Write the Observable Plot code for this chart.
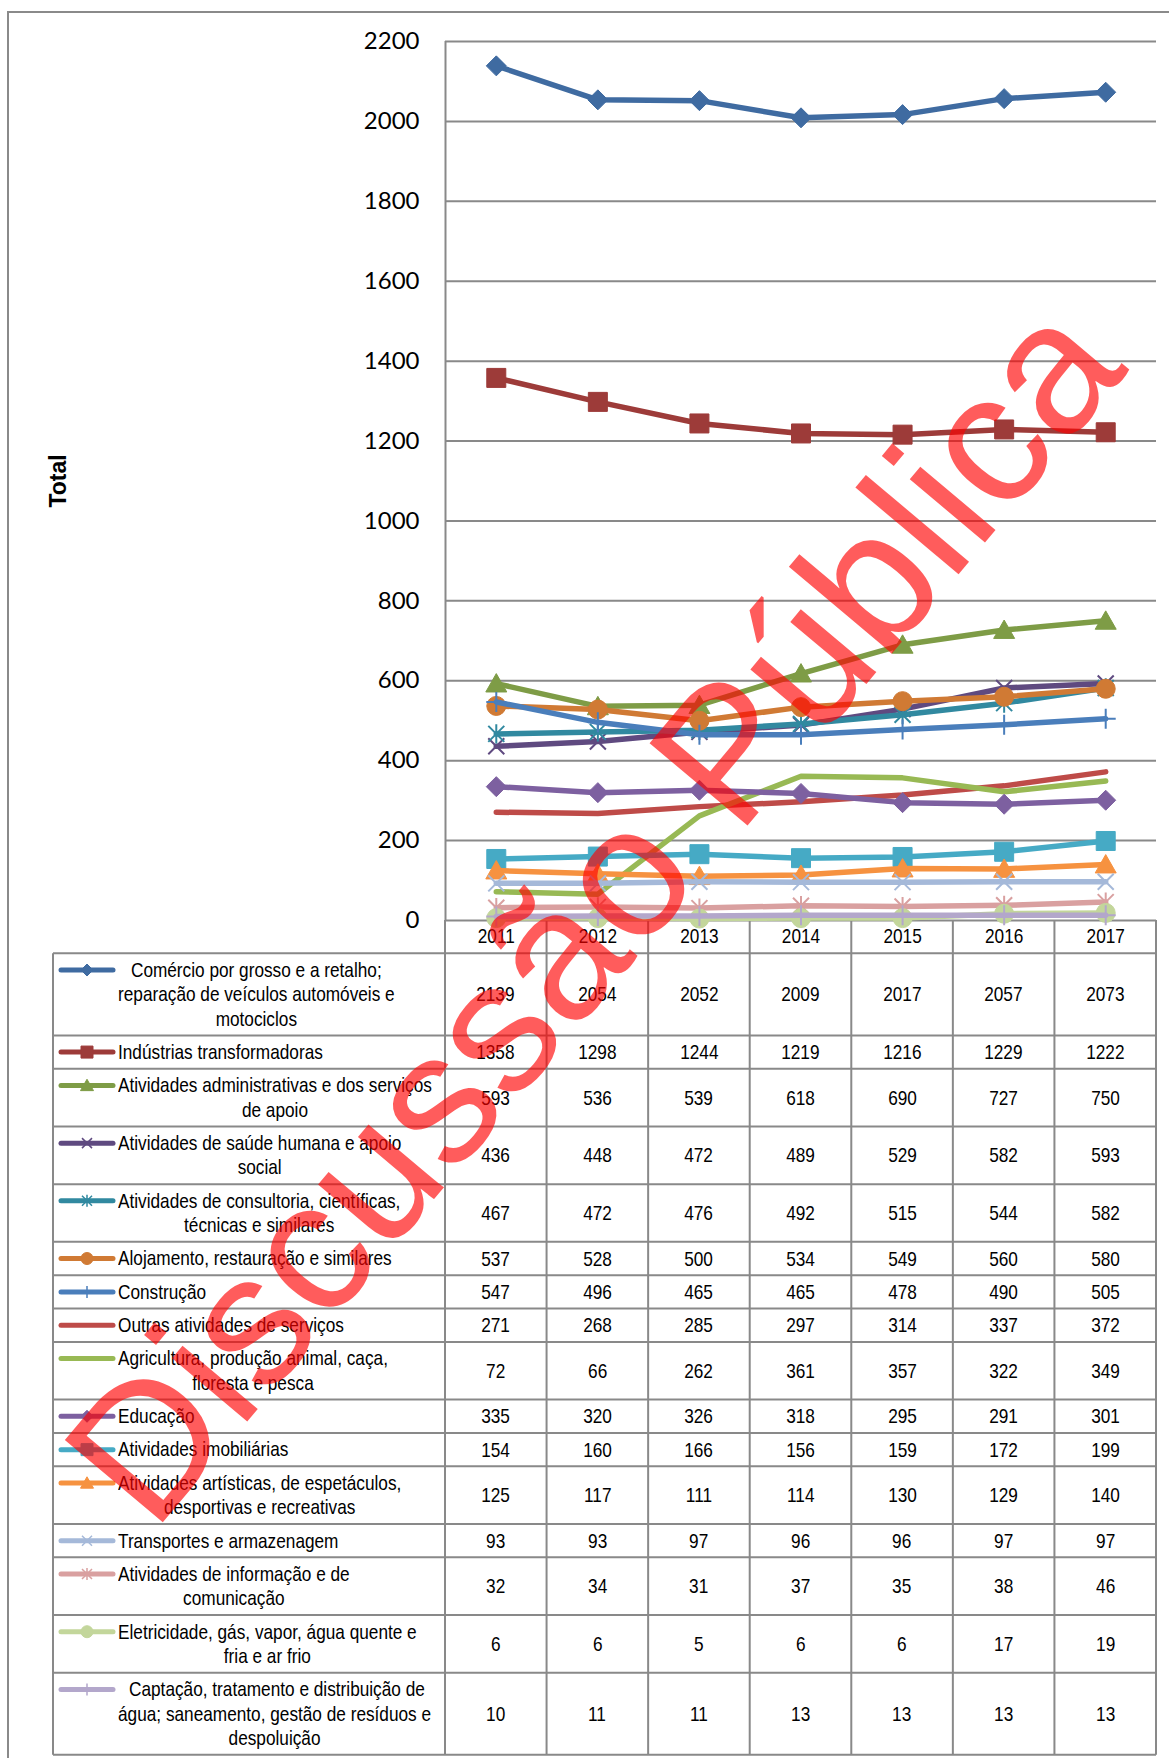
<!DOCTYPE html>
<html>
<head>
<meta charset="utf-8">
<script src="https://cdn.jsdelivr.net/npm/d3@7"></script>
<script src="https://cdn.jsdelivr.net/npm/@observablehq/plot@0.6"></script>
<style>
html, body { margin: 0; padding: 0; background: #fff; }
#wrap { position: relative; width: 1169px; height: 1758px; overflow: hidden; background: #fff; color: #000; }
#frame { position: absolute; left: 7px; top: 11px; width: 1300px; height: 1900px;
  border-left: 2px solid #8a8a8a; border-top: 2px solid #8a8a8a; box-sizing: border-box; }
.layer { position: absolute; left: 0; top: 0; }
.lbl { position: absolute; display: inline-block; white-space: pre; text-align: center;
  font-size: 21px; line-height: 24.35px; transform-origin: 0 0; }
.num { position: absolute; display: flex; align-items: center; justify-content: center;
  font-size: 21px; }
.num span { display: inline-block; transform-origin: 50% 50%; }
</style>
</head>
<body>
<div id="wrap"><div id="frame"></div></div>
<script>
// ---------- data ----------
const years = [2011, 2012, 2013, 2014, 2015, 2016, 2017];
const yTicks = [0, 200, 400, 600, 800, 1000, 1200, 1400, 1600, 1800, 2000, 2200];
const yTitle = "Total";

const categories = [
  "Comércio por grosso e a retalho;\nreparação de veículos automóveis e\nmotociclos",
  "Indústrias transformadoras",
  "Atividades administrativas e dos serviços\nde apoio",
  "Atividades de saúde humana e apoio\nsocial",
  "Atividades de consultoria, científicas,\ntécnicas e similares",
  "Alojamento, restauração e similares",
  "Construção",
  "Outras atividades de serviços",
  "Agricultura, produção animal, caça,\nfloresta e pesca",
  "Educação",
  "Atividades imobiliárias",
  "Atividades artísticas, de espetáculos,\ndesportivas e recreativas",
  "Transportes e armazenagem",
  "Atividades de informação e de\ncomunicação",
  "Eletricidade, gás, vapor, água quente e\nfria e ar frio",
  " Captação, tratamento e distribuição de\nágua; saneamento, gestão de resíduos e\ndespoluição"
];

const comercio     = [2139, 2054, 2052, 2009, 2017, 2057, 2073];
const industrias   = [1358, 1298, 1244, 1219, 1216, 1229, 1222];
const administr    = [593, 536, 539, 618, 690, 727, 750];
const saude        = [436, 448, 472, 489, 529, 582, 593];
const consultoria  = [467, 472, 476, 492, 515, 544, 582];
const alojamento   = [537, 528, 500, 534, 549, 560, 580];
const construcao   = [547, 496, 465, 465, 478, 490, 505];
const outras       = [271, 268, 285, 297, 314, 337, 372];
const agricultura  = [72, 66, 262, 361, 357, 322, 349];
const educacao     = [335, 320, 326, 318, 295, 291, 301];
const imobiliarias = [154, 160, 166, 156, 159, 172, 199];
const artisticas   = [125, 117, 111, 114, 130, 129, 140];
const transportes  = [93, 93, 97, 96, 96, 97, 97];
const informacao   = [32, 34, 31, 37, 35, 38, 46];
const eletricidade = [6, 6, 5, 6, 6, 17, 19];
const captacao     = [10, 11, 11, 13, 13, 13, 13];

const watermarkText = "Discussão Pública";

// ---------- styles ----------
const seriesValues = [comercio, industrias, administr, saude, consultoria, alojamento, construcao,
  outras, agricultura, educacao, imobiliarias, artisticas, transportes, informacao, eletricidade, captacao];
const colors = ["#3f6ba1", "#9d3b39", "#7e9c46", "#5f4a80", "#3189a0", "#d07a34", "#4a7ebb",
  "#be4b48", "#98b954", "#7d60a0", "#46aac5", "#f69240", "#a5b9d9", "#d9a0a0", "#c3d69b", "#b3a7cb"];
const markers = ["diamond", "square", "triangle", "x", "asterisk", "circle", "plus",
  null, null, "diamond", "square", "triangle", "x", "asterisk", "circle", "plus"];
const markerR = {diamond: 10, square: 9.5, triangle: 10.5, x: 8, asterisk: 8, circle: 9.5, plus: 10};
const legendR = {diamond: 6, square: 6, triangle: 6.5, x: 5, asterisk: 5, circle: 6, plus: 6};
const GRID = "#898989";

// narrow font: use Liberation Sans Narrow if present, else Liberation Sans compressed to Arial Narrow widths
function hasFont(name) {
  const c = document.createElement("canvas").getContext("2d");
  const s = "Indústrias transformadoras 0123456789";
  c.font = "40px monospace"; const a = c.measureText(s).width;
  c.font = `40px "${name}", monospace`; const b = c.measureText(s).width;
  return Math.abs(a - b) > 0.5;
}
const HAS_NARROW = hasFont("Liberation Sans Narrow");
const NARROW_FAMILY = HAS_NARROW ? "'Liberation Sans Narrow', sans-serif" : "'Liberation Sans', Arial, sans-serif";
const NARROW_SCALE = HAS_NARROW ? 1 : 0.82;
const measureCtx = document.createElement("canvas").getContext("2d");
measureCtx.font = `21px ${NARROW_FAMILY}`;

const rr = (size) => Math.sqrt(size / Math.PI);
const symbols = {
  diamond: {draw(c, s) { const r = rr(s); c.moveTo(0, -r); c.lineTo(r, 0); c.lineTo(0, r); c.lineTo(-r, 0); c.closePath(); }},
  square: {draw(c, s) { const r = rr(s); c.moveTo(-r, -r); c.lineTo(r, -r); c.lineTo(r, r); c.lineTo(-r, r); c.closePath(); }},
  triangle: {draw(c, s) { const r = rr(s); c.moveTo(0, -r * 0.95); c.lineTo(r, r * 0.8); c.lineTo(-r, r * 0.8); c.closePath(); }},
  x: {draw(c, s) { const r = rr(s); c.moveTo(-r, -r); c.lineTo(r, r); c.moveTo(r, -r); c.lineTo(-r, r); }},
  asterisk: {draw(c, s) { const r = rr(s); c.moveTo(-r, -r); c.lineTo(r, r); c.moveTo(r, -r); c.lineTo(-r, r); c.moveTo(0, -r * 1.2); c.lineTo(0, r * 1.2); }},
  circle: {draw(c, s) { const r = rr(s); c.moveTo(r, 0); c.arc(0, 0, r, 0, 2 * Math.PI); }},
  plus: {draw(c, s) { const r = rr(s); c.moveTo(0, -r); c.lineTo(0, r); c.moveTo(-r, 0); c.lineTo(r, 0); }}
};
const filled = {diamond: true, square: true, triangle: true, circle: true, x: false, asterisk: false, plus: false};

// ---------- chart ----------
const W = 1169, H = 953;
const marks = [
  Plot.ruleY(yTicks, {stroke: GRID, strokeWidth: 2}),
  Plot.ruleX([years[0] - 0.5], {stroke: GRID, strokeWidth: 2}),
  Plot.text([yTitle], {frameAnchor: "left", text: d => d, rotate: -90, dx: -386.5,
    textAnchor: "middle", lineAnchor: "middle",
    fontFamily: "'Liberation Sans', Arial, sans-serif", fontWeight: "bold", fontSize: 23, fill: "#000"})
];
seriesValues.forEach((vals, i) => {
  const data = years.map((yr, j) => ({year: yr, value: vals[j]}));
  marks.push(Plot.line(data, {x: "year", y: "value", stroke: colors[i], strokeWidth: 5.5,
    strokeLinejoin: "round", strokeLinecap: "round"}));
  const m = markers[i];
  if (m) {
    marks.push(Plot.dot(data, {x: "year", y: "value", symbol: symbols[m], r: markerR[m],
      fill: filled[m] ? colors[i] : "none", stroke: colors[i], strokeWidth: filled[m] ? 1 : 2}));
  }
});

const plot = Plot.plot({
  width: W, height: H,
  marginLeft: 445, marginRight: 13, marginTop: 41, marginBottom: 33,
  style: {background: "transparent", overflow: "visible",
    fontFamily: NARROW_FAMILY, fontSize: "21px", color: "#000"},
  x: {type: "linear", domain: [years[0] - 0.5, years[years.length - 1] + 0.5], ticks: years,
    tickFormat: d => String(d), tickSize: 0, tickPadding: 8, label: null},
  y: {domain: [yTicks[0], yTicks[yTicks.length - 1]], ticks: yTicks, tickFormat: d => String(d),
    tickSize: 0, tickPadding: 26, label: null},
  marks
});
plot.classList.add("layer");

// y tick labels (Calibri-like)
d3.select(plot).selectAll('g[aria-label^="y-axis"] text')
  .style("font-size", "24px").style("font-family", "Lato, 'Open Sans', sans-serif");
// x tick labels (Arial Narrow-like)
d3.select(plot).selectAll('g[aria-label^="x-axis"] text').each(function () {
  const t = d3.select(this);
  t.style("font-size", "21px").style("font-family", NARROW_FAMILY);
  if (NARROW_SCALE !== 1) {
    const w = measureCtx.measureText(this.textContent).width * NARROW_SCALE;
    t.attr("textLength", w).attr("lengthAdjust", "spacingAndGlyphs");
  }
});

const wrap = document.getElementById("wrap");
const xs = plot.scale("x"), ys = plot.scale("y");

// ---------- data table (legend + values) ----------
const LINE = 24.35, PAD = 9;
const rowH = (n) => PAD + LINE * n;
const tableLeft = 53;
const colEdges = [years[0] - 0.5, ...years.map(y => y + 0.5)].map(v => xs.apply(v));
const xRight = colEdges[colEdges.length - 1];
const headerTop = ys.apply(yTicks[0]);
const headerBottom = headerTop + rowH(1);

const rows = [];
let yy = headerBottom;
categories.forEach((c) => {
  const n = c.split("\n").length;
  rows.push({top: yy, h: rowH(n), n});
  yy += rowH(n);
});
const tableBottom = yy;

// lines layer (under the plot)
const lines = d3.create("svg").attr("class", "layer").attr("width", W).attr("height", 1758);
const g = lines.append("g").attr("stroke", GRID).attr("stroke-width", 2);
colEdges.forEach(x => g.append("line").attr("x1", x).attr("x2", x).attr("y1", headerTop).attr("y2", tableBottom));
g.append("line").attr("x1", tableLeft).attr("x2", tableLeft).attr("y1", headerBottom).attr("y2", tableBottom);
g.append("line").attr("x1", tableLeft).attr("x2", xRight).attr("y1", headerBottom).attr("y2", headerBottom);
rows.forEach(r => g.append("line").attr("x1", tableLeft).attr("x2", xRight).attr("y1", r.top + r.h).attr("y2", r.top + r.h));
wrap.appendChild(lines.node());
wrap.appendChild(plot);

// text layer
const textLayer = document.createElement("div");
textLayer.className = "layer";
textLayer.style.width = W + "px"; textLayer.style.height = "1758px";
textLayer.style.fontFamily = NARROW_FAMILY;
wrap.appendChild(textLayer);

const swatches = d3.create("svg").attr("class", "layer").attr("width", W).attr("height", 1758);
rows.forEach((r, i) => {
  const lab = document.createElement("div");
  lab.className = "lbl";
  lab.textContent = categories[i];
  lab.style.left = "118px";
  lab.style.top = (r.top + PAD / 2) + "px";
  lab.style.transform = `scaleX(${NARROW_SCALE})`;
  textLayer.appendChild(lab);
  seriesValues[i].forEach((v, j) => {
    const d = document.createElement("div");
    d.className = "num";
    const sp = document.createElement("span");
    sp.textContent = String(v);
    sp.style.transform = `scaleX(${NARROW_SCALE})`;
    d.appendChild(sp);
    d.style.left = colEdges[j] + "px";
    d.style.width = (colEdges[j + 1] - colEdges[j]) + "px";
    d.style.top = r.top + "px";
    d.style.height = r.h + "px";
    textLayer.appendChild(d);
  });
  const cy = r.top + PAD / 2 + LINE / 2;
  swatches.append("line").attr("x1", 61).attr("x2", 113).attr("y1", cy).attr("y2", cy)
    .attr("stroke", colors[i]).attr("stroke-width", 5).attr("stroke-linecap", "round");
  const m = markers[i];
  if (m) {
    const p = d3.path();
    symbols[m].draw(p, legendR[m] * legendR[m] * Math.PI);
    swatches.append("path").attr("d", p.toString()).attr("transform", `translate(87,${cy})`)
      .attr("fill", filled[m] ? colors[i] : "none").attr("stroke", colors[i])
      .attr("stroke-width", filled[m] ? 1 : 1.5);
  }
});
wrap.appendChild(swatches.node());

// watermark
const wm = d3.create("svg").attr("class", "layer").attr("width", W).attr("height", 1758);
wm.append("text").attr("transform", "translate(153,1534) rotate(-50)")
  .attr("font-family", "'Liberation Sans', Arial, sans-serif").attr("font-size", 186)
  .attr("fill", "#ff0000").attr("fill-opacity", 0.64).text(watermarkText);
wrap.appendChild(wm.node());
</script>
</body>
</html>
